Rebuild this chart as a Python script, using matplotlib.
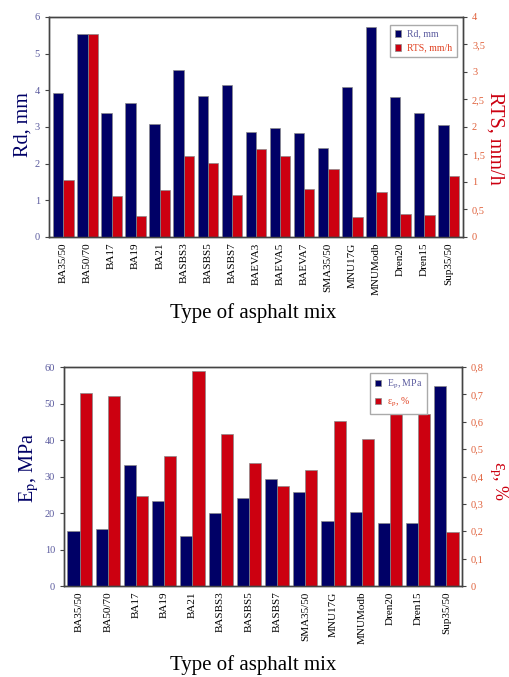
import numpy as np
import matplotlib
matplotlib.use("Agg")
import matplotlib.pyplot as plt
from matplotlib.ticker import FuncFormatter

plt.rcParams['font.family'] = ['Liberation Serif', 'DejaVu Serif']
plt.rcParams['mathtext.fontset'] = 'stix'

# top chart: rut depth and rutting speed
mixes_top = ["BA35/50", "BA50/70", "BA17", "BA19", "BA21", "BASBS3", "BASBS5",
             "BASBS7", "BAEVA3", "BAEVA5", "BAEVA7", "SMA35/50", "MNU17G",
             "MNUModb", "Dren20", "Dren15", "Sup35/50"]
rd = [3.93, 5.53, 3.38, 3.64, 3.08, 4.56, 3.84, 4.13, 2.86, 2.98, 2.83,
      2.42, 4.09, 5.73, 3.81, 3.38, 3.06]
rts = [1.03, 3.69, 0.75, 0.38, 0.86, 1.47, 1.34, 0.77, 1.59, 1.48, 0.88,
       1.24, 0.37, 0.82, 0.42, 0.39, 1.10]

# bottom chart: modulus and strain
mixes_bot = ["BA35/50", "BA50/70", "BA17", "BA19", "BA21", "BASBS3", "BASBS5",
             "BASBS7", "SMA35/50", "MNU17G", "MNUModb", "Dren20", "Dren15",
             "Sup35/50"]
ep = [15.1, 15.6, 33.2, 23.3, 13.8, 19.9, 24.1, 29.3, 25.8, 17.9, 20.3,
      17.2, 17.2, 54.8]
eps = [0.706, 0.694, 0.328, 0.474, 0.784, 0.556, 0.449, 0.367, 0.425,
       0.602, 0.538, 0.630, 0.630, 0.199]

NAVY = "#000066"
RED = "#cc0010"
LTICK = "#5a5a9e"
RTICK = "#e0603a"
EDGE = "#8a8a8a"

comma = FuncFormatter(lambda v, p: ("%g" % v).replace(".", ","))


def style_axes(ax, ax2):
    for a in (ax, ax2):
        for s in a.spines.values():
            s.set_color("#444444")
            s.set_linewidth(1.0)
    ax.tick_params(axis="y", colors="#444444", labelcolor=LTICK, labelsize=7.5,
                   direction="out", length=3)
    ax2.tick_params(axis="y", colors="#444444", labelcolor=RTICK, labelsize=7.5,
                    direction="out", length=3)
    ax.tick_params(axis="x", length=0, labelsize=8, labelrotation=90, pad=4)
    ax2.yaxis.set_major_formatter(comma)


def draw(ax, labels, left_vals, right_vals, w):
    x = np.arange(len(labels))
    ax2 = ax.twinx()
    b1 = ax.bar(x - w / 2, left_vals, w, color=NAVY, edgecolor=EDGE, linewidth=0.5)
    b2 = ax2.bar(x + w / 2, right_vals, w, color=RED, edgecolor=EDGE, linewidth=0.5)
    ax.set_xticks(x)
    ax.set_xticklabels(labels)
    ax.set_xlim(-0.6, len(labels) - 0.4)
    style_axes(ax, ax2)
    return ax2, b1, b2


def legend(ax, handles, names, anchor):
    leg = ax.legend(handles, names, loc="upper right", bbox_to_anchor=anchor,
                    fontsize=7, frameon=True, fancybox=False, framealpha=1,
                    edgecolor="#aaaaaa", handlelength=0.6, handleheight=0.7,
                    handletextpad=0.6, borderpad=0.5, labelspacing=0.5,
                    borderaxespad=0)
    leg.get_texts()[0].set_color(LTICK)
    leg.get_texts()[1].set_color("#e04020")
    ax.set_zorder(10)
    ax.patch.set_visible(False)


fig = plt.figure(figsize=(5.09, 6.77), dpi=100)

# ---- top panel
ax = fig.add_axes([0.0963, 0.650, 0.8133, 0.325])
ax2, b1, b2 = draw(ax, mixes_top, rd, rts, 0.43)
ax.set_ylim(0, 6)
ax2.set_ylim(0, 4)
ax2.set_yticks(np.arange(0, 4.01, 0.5))
ax.set_ylabel("Rd, mm", color=NAVY, fontsize=14.5, va="center")
ax.yaxis.set_label_coords(-0.063, 0.51)
ax2.set_ylabel("RTS, mm/h", color=RED, fontsize=14.5, rotation=270, va="center")
ax2.yaxis.set_label_coords(1.077, 0.45)
ax.set_xlabel("Type of asphalt mix", fontsize=15, va="center")
ax.xaxis.set_label_coords(0.493, -0.345)
legend(ax, [b1, b2], ["Rd, mm", "RTS, mm/h"], (0.985, 0.964))

# ---- bottom panel
bx = fig.add_axes([0.1257, 0.1344, 0.7820, 0.3235])
bx2, c1, c2 = draw(bx, mixes_bot, ep, eps, 0.43)
bx.set_xlim(-0.55, len(mixes_bot) - 0.45)
bx.set_ylim(0, 60)
bx2.set_ylim(0, 0.8)
bx2.set_yticks(np.arange(0, 0.81, 0.1))
bx.set_ylabel("E$_\\mathrm{p}$, MPa", color=NAVY, fontsize=14.5, va="center")
bx.yaxis.set_label_coords(-0.088, 0.54)
bx2.set_ylabel("ε$_\\mathrm{p}$, %", color=RED, fontsize=13, rotation=270,
               va="center")
bx2.yaxis.set_label_coords(1.09, 0.48)
bx.set_xlabel("Type of asphalt mix", fontsize=15, va="center")
bx.xaxis.set_label_coords(0.475, -0.36)
legend(bx, [c1, c2], ["E$_\\mathrm{p}$, MPa", "ε$_\\mathrm{p}$, %"],
       (0.912, 0.973))

fig.savefig("out.png", dpi=100)
